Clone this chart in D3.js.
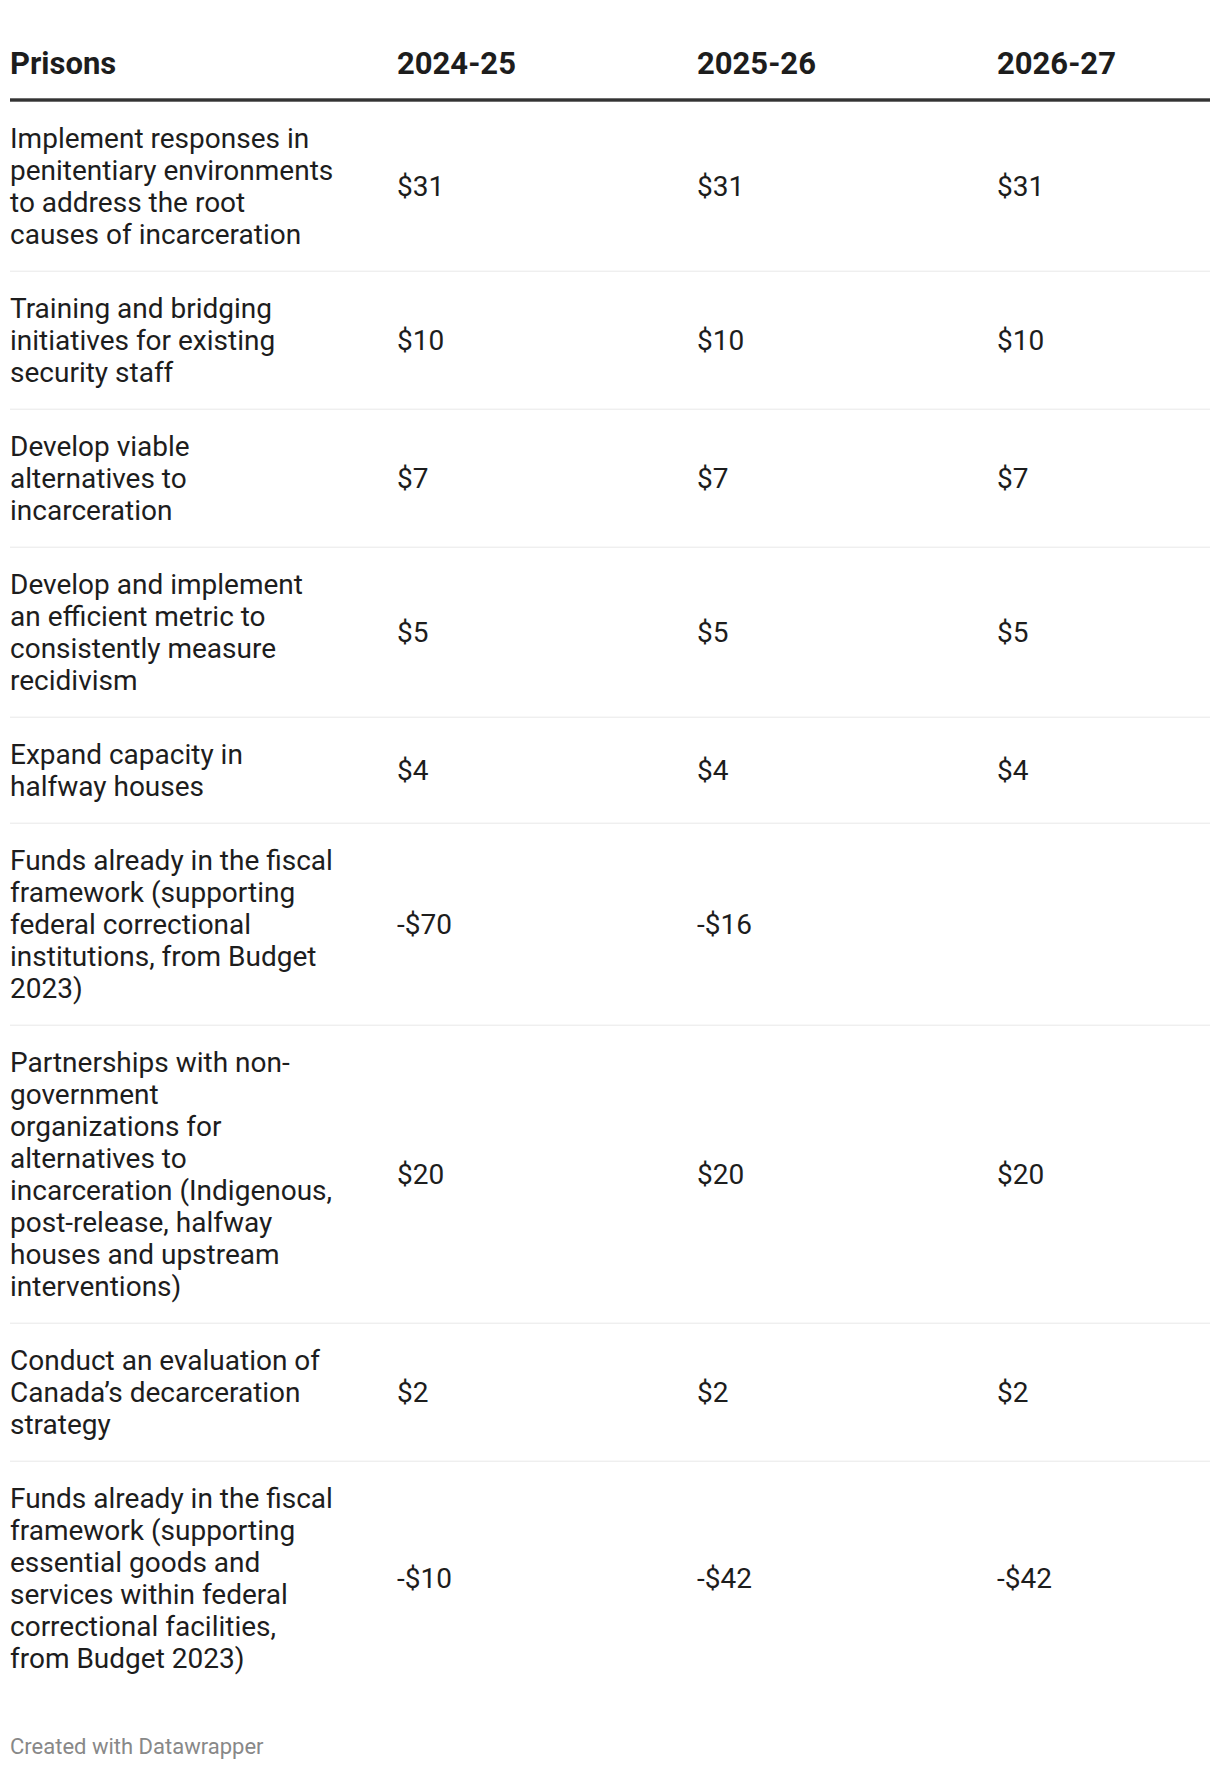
<!DOCTYPE html>
<html>
<head>
<meta charset="utf-8">
<script src="https://cdn.jsdelivr.net/npm/d3@7"></script>
<style>
  body { margin: 0; background: #fff; }
  svg { display: block; font-family: Roboto, "Noto Sans", sans-serif; }
</style>
</head>
<body>
<svg id="chart"></svg>
<script>
// Tabella "Prisons" (importi per anno fiscale)
const width = 1220;
const height = 1770;

const headerLabel = "Prisons";
const years = ["2024-25", "2025-26", "2026-27"];

// Voci della tabella, con gli a capo come nell'originale
const items = [
  "Implement responses in\npenitentiary environments\nto address the root\ncauses of incarceration",
  "Training and bridging\ninitiatives for existing\nsecurity staff",
  "Develop viable\nalternatives to\nincarceration",
  "Develop and implement\nan efficient metric to\nconsistently measure\nrecidivism",
  "Expand capacity in\nhalfway houses",
  "Funds already in the fiscal\nframework (supporting\nfederal correctional\ninstitutions, from Budget\n2023)",
  "Partnerships with non-\ngovernment\norganizations for\nalternatives to\nincarceration (Indigenous,\npost-release, halfway\nhouses and upstream\ninterventions)",
  "Conduct an evaluation of\nCanada\u2019s decarceration\nstrategy",
  "Funds already in the fiscal\nframework (supporting\nessential goods and\nservices within federal\ncorrectional facilities,\nfrom Budget 2023)"
];

// Valori per colonna (null = cella vuota)
const values2024 = [31, 10, 7, 5, 4, -70, 20, 2, -10];
const values2025 = [31, 10, 7, 5, 4, -16, 20, 2, -42];
const values2026 = [31, 10, 7, 5, 4, null, 20, 2, -42];
const footerText = "Created with Datawrapper";

const series = [values2024, values2025, values2026];
const fmt = v => v == null ? "" : (v < 0 ? "-$" : "$") + Math.abs(v);

// misure
const left = 10, right = 1210;
const lineH = 32, pad = 21;
const headerRuleY = 100;

const x = d3.scalePoint().domain(years).range([397, 997]);

const rows = items.map((d, i) => ({
  lines: d.split("\n"),
  values: series.map(s => s[i])
}));

// calcolo le altezze delle righe in base al numero di linee
let y0 = headerRuleY + 1.7;
rows.forEach(r => {
  r.top = y0;
  r.h = r.lines.length * lineH + 2 * pad;
  y0 += r.h;
});

const svg = d3.select("#chart")
  .attr("width", width)
  .attr("height", height)
  .attr("viewBox", [0, 0, width, height]);

// intestazione
const head = svg.append("g")
  .attr("font-size", 31)
  .attr("font-weight", 700)
  .attr("fill", "#1d1d1d");

head.append("text").attr("x", left).attr("y", 74).text(headerLabel);
head.selectAll("text.year")
  .data(years)
  .join("text")
  .attr("class", "year")
  .attr("x", d => x(d))
  .attr("y", 74)
  .text(d => d);

svg.append("rect")
  .attr("x", left)
  .attr("y", headerRuleY - 1.7)
  .attr("width", right - left)
  .attr("height", 3.4)
  .attr("fill", "#333");

// righe
const row = svg.append("g")
  .selectAll("g")
  .data(rows)
  .join("g")
  .attr("transform", d => `translate(0,${d.top})`)
  .attr("font-size", 28)
  .attr("fill", "#1d1d1d");

row.filter((d, i) => i < rows.length - 1)
  .append("rect")
  .attr("x", left)
  .attr("y", d => d.h - 1)
  .attr("width", right - left)
  .attr("height", 1)
  .attr("fill", "#e8e8e8");

row.append("text")
  .attr("x", left)
  .selectAll("tspan")
  .data(d => d.lines)
  .join("tspan")
  .attr("x", left)
  .attr("y", (d, i) => pad + lineH / 2 + i * lineH)
  .attr("dy", "0.35em")
  .text(d => d);

row.selectAll("text.val")
  .data(d => d.values.map((v, j) => ({ v, year: years[j], h: d.h })))
  .join("text")
  .attr("class", "val")
  .attr("x", d => x(d.year))
  .attr("y", d => d.h / 2)
  .attr("dy", "0.35em")
  .text(d => fmt(d.v));

// nota in basso
svg.append("text")
  .attr("x", left)
  .attr("y", 1746)
  .attr("dy", "0.35em")
  .attr("font-size", 22)
  .attr("fill", "#888")
  .text(footerText);
</script>
</body>
</html>
